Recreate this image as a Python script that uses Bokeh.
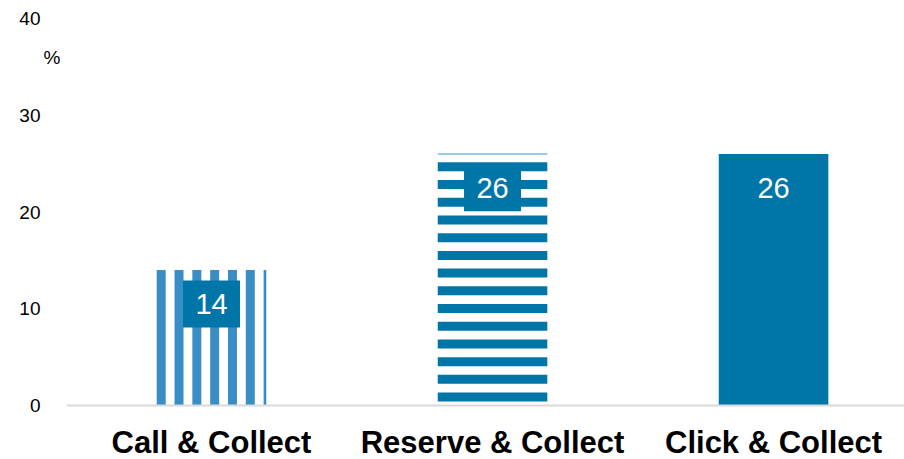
from bokeh.plotting import figure
from bokeh.models import ColumnDataSource, FixedTicker, Span, LinearAxis
from bokeh.embed import file_html
from bokeh.resources import INLINE
from bokeh.core.properties import value

# ---- data ----
categories = ["Call & Collect", "Reserve & Collect", "Click & Collect"]
values = [14, 26, 26]
value_labels = ["14", "26", "26"]
y_ticks = [0, 10, 20, 30, 40]
fill_styles = ["vstripe", "hstripe", "solid"]
unit_label = "%"
unit_label_at = 36

# ---- style ----
LIGHT = "#3A8EC6"
DARK = "#0076A8"
EDGE = "#7DB9DF"
FONT = "Liberation Sans"
BW = 0.39          # bar width (category units)
VP, VW = 0.0634, 0.0320   # vertical stripe period / width (x units)
HP, HW, HO = 1.83, 0.93, 0.41  # horizontal stripe period / height / offset (y units)

W, H = 904, 459
p = figure(width=W, height=H, output_backend="svg", toolbar_location=None,
           x_range=(-0.516, 2.466), y_range=(-5.58, 40),
           min_border_left=66, min_border_right=0, min_border_top=18,
           min_border_bottom=0, x_axis_location=None)
p.outline_line_color = None
p.xgrid.visible = False
p.ygrid.visible = False
p.background_fill_color = "white"

# stripes and bars built from the values
stripes = dict(left=[], right=[], bottom=[], top=[], color=[])
edges = dict(x0=[], x1=[], y=[])
for i, (v, s) in enumerate(zip(values, fill_styles)):
    l, r = i - BW / 2, i + BW / 2
    if s == "vstripe":
        k = 0
        while l + k * VP < r:
            x0 = l + k * VP
            stripes["left"].append(x0)
            stripes["right"].append(min(x0 + VW, r))
            stripes["bottom"].append(0)
            stripes["top"].append(v)
            stripes["color"].append(LIGHT)
            k += 1
    elif s == "hstripe":
        k = 0
        while HO + k * HP < v:
            y0 = HO + k * HP
            stripes["left"].append(l)
            stripes["right"].append(r)
            stripes["bottom"].append(y0)
            stripes["top"].append(min(y0 + HW, v))
            stripes["color"].append(DARK)
            k += 1
        edges["x0"].append(l)
        edges["x1"].append(r)
        edges["y"].append(v)
    else:
        stripes["left"].append(l)
        stripes["right"].append(r)
        stripes["bottom"].append(0)
        stripes["top"].append(v)
        stripes["color"].append(DARK)

p.quad(left="left", right="right", bottom="bottom", top="top", color="color",
       line_color=None, source=ColumnDataSource(stripes))
p.segment(x0="x0", x1="x1", y0="y", y1="y", line_color=EDGE, line_width=1.5,
          source=ColumnDataSource(edges))

# baseline
p.add_layout(Span(location=0, dimension="width", line_color="#D9D9D9", line_width=2))

# value label boxes
xs = list(range(len(categories)))
lab = ColumnDataSource(dict(x=xs, y=[v - 3.5 for v in values], t=value_labels))
p.rect(x="x", y="y", width=57, height=47, width_units="screen", height_units="screen",
       fill_color=DARK, line_color=None, source=lab)
p.text(x="x", y="y", text="t", text_color="white", text_font=value(FONT),
       text_font_size="29px", text_align="center", text_baseline="middle", source=lab)

# category labels
p.text(x=xs, y=[-3.82] * len(xs), text=categories, text_font=value(FONT),
       text_font_style="bold", text_font_size="31px", text_align="center",
       text_baseline="middle", text_color="black")


def style_axis(ax, standoff):
    ax.axis_line_color = None
    ax.major_tick_line_color = None
    ax.minor_tick_line_color = None
    ax.major_tick_out = 0
    ax.major_tick_in = 0
    ax.major_label_standoff = standoff
    ax.major_label_text_font = FONT
    ax.major_label_text_font_size = "19px"
    ax.major_label_text_color = "black"


# inner axis: unit label
unit_ax = p.yaxis[0]
unit_ax.ticker = FixedTicker(ticks=[unit_label_at])
unit_ax.major_label_overrides = {unit_label_at: unit_label}
style_axis(unit_ax, 6)

# outer axis: numbers
num_ax = LinearAxis(ticker=FixedTicker(ticks=y_ticks))
style_axis(num_ax, 0)
p.add_layout(num_ax, "left")

open("out.html", "w").write(file_html(p, INLINE))
